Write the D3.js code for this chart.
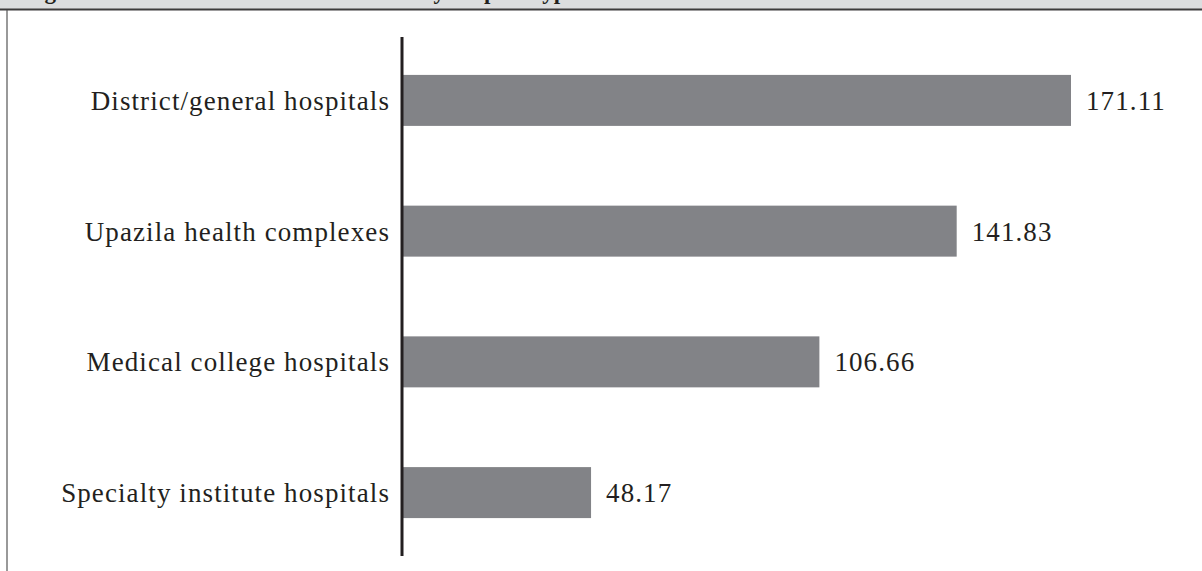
<!DOCTYPE html>
<html>
<head>
<meta charset="utf-8">
<script src="https://cdn.jsdelivr.net/npm/d3@7"></script>
<style>
  body { margin: 0; background: #fff; }
  svg { display: block; }
  text { font-family: "Liberation Serif", "DejaVu Serif", serif; fill: #231f20; }
</style>
</head>
<body>
<div id="root"></div>
<script>
const categories = [
  "District/general hospitals",
  "Upazila health complexes",
  "Medical college hospitals",
  "Specialty institute hospitals"
];
const values = [171.11, 141.83, 106.66, 48.17];
const valueLabels = ["171.11", "141.83", "106.66", "48.17"];
const title = "Figure 2 Mean number of outdoor visits by hospital type";

const width = 1202;
const height = 571;
const axisX = 402;

const svg = d3.select("#root")
  .append("svg")
    .attr("width", width)
    .attr("height", height);

// header band, cut off at the top like the source
svg.append("rect")
    .attr("x", 0).attr("y", 0)
    .attr("width", width).attr("height", 9)
    .style("fill", "#dcdddf");

svg.append("text")
    .attr("x", 24)
    .attr("y", -1)
    .style("font-size", "23px")
    .style("font-weight", "bold")
    .text(title);

svg.append("line")
    .attr("x1", 0).attr("x2", width)
    .attr("y1", 9.5).attr("y2", 9.5)
    .style("stroke", "#3d3b3c")
    .style("stroke-width", 2);

// left frame
svg.append("line")
    .attr("x1", 7).attr("x2", 7)
    .attr("y1", 10).attr("y2", height)
    .style("stroke", "#555")
    .style("stroke-width", 1.2);

const x = d3.scaleLinear()
  .domain([0, 171.11])
  .range([axisX + 1, 1071]);

const y = d3.scaleBand()
  .domain(categories)
  .range([37, 556])
  .paddingInner(0.61)
  .paddingOuter(0.29);

// bars
svg.append("g")
  .selectAll("rect")
  .data(categories)
  .join("rect")
    .attr("x", x(0))
    .attr("y", d => y(d))
    .attr("width", (d, i) => x(values[i]) - x(0))
    .attr("height", y.bandwidth())
    .style("fill", "#828387");

// category labels
svg.append("g")
  .selectAll("text")
  .data(categories)
  .join("text")
    .attr("x", axisX - 12)
    .attr("y", d => y(d) + y.bandwidth() / 2)
    .attr("dy", "0.35em")
    .attr("text-anchor", "end")
    .style("font-size", "27px")
    .style("letter-spacing", "1.1px")
    .text(d => d);

// value labels
svg.append("g")
  .selectAll("text")
  .data(categories)
  .join("text")
    .attr("x", (d, i) => x(values[i]) + 15)
    .attr("y", d => y(d) + y.bandwidth() / 2)
    .attr("dy", "0.35em")
    .style("font-size", "27px")
    .style("letter-spacing", "1.1px")
    .text((d, i) => valueLabels[i]);

// axis line
svg.append("line")
    .attr("x1", axisX).attr("x2", axisX)
    .attr("y1", 37).attr("y2", 556)
    .style("stroke", "#231f20")
    .style("stroke-width", 3);
</script>
</body>
</html>
